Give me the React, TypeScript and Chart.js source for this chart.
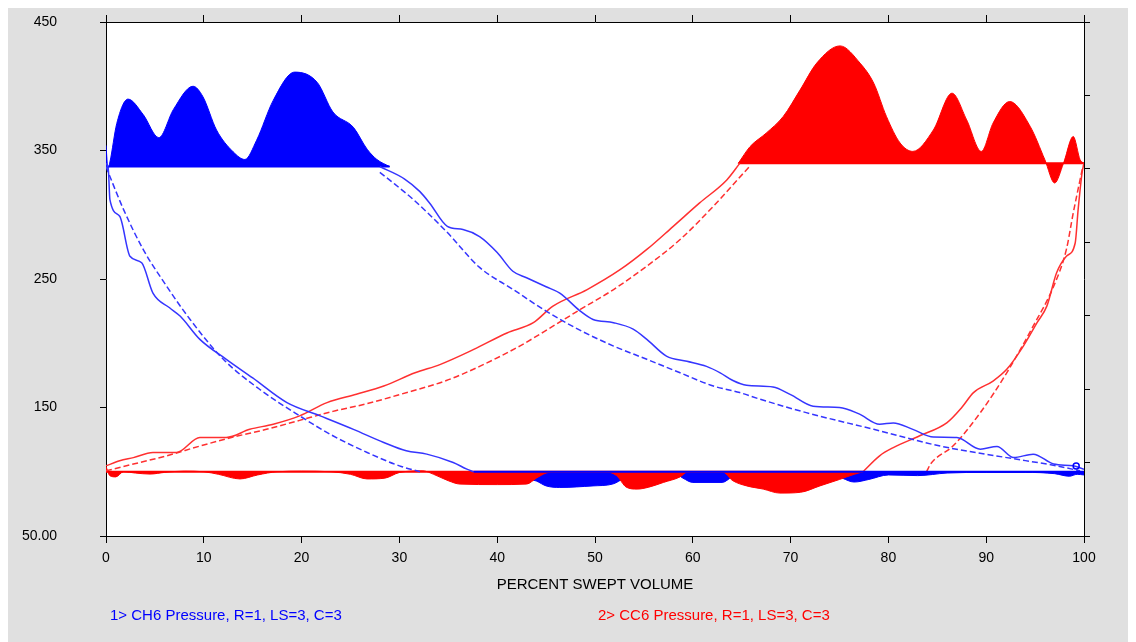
import React, { useEffect, useRef } from 'react';
import { Chart, registerables } from 'chart.js';

Chart.register(...registerables);

// ---------- data (percent swept volume vs pressure) ----------
const xTickLabels = ['0', '10', '20', '30', '40', '50', '60', '70', '80', '90', '100'];
const yTickValues = [50, 150, 250, 350, 450];
const xTitle = 'PERCENT SWEPT VOLUME';
const legend1 = '1> CH6 Pressure, R=1, LS=3, C=3';
const legend2 = '2> CC6 Pressure, R=1, LS=3, C=3';

const blueTopBase = 337.5;
const redTopBase = 340;
const lowBase = 100;

const blueTopX = [0, 0.2, 0.4, 1.1, 2.25, 3.8, 5.4, 6.9, 8.9, 9.9, 11.3, 13, 14.2, 15.4, 17.1, 19.3, 21.6, 23.2, 25.3, 26.7, 27.7, 29];
const blueTopY = [354, 336, 341, 371, 390, 378, 360, 382, 400, 392, 366, 349, 343, 358, 389, 411, 403, 380, 368, 351, 343, 337.5];

const blueUpperSolidX = [28, 30.5, 32.1, 33.1, 34.9, 36.5, 38.2, 40, 41.6, 43, 45, 46.4, 48.5, 49.8, 51.9, 53.9, 55.3, 57.3, 59.4, 61.4, 62.8, 64.1, 65.5, 68.2, 70, 72.3, 75, 77, 79.1, 80.5, 82.5, 84.6, 87, 89.4, 91.1, 92.8, 94.8, 96.9, 98.9, 100];
const blueUpperSolidY = [337.5, 328, 318, 309, 291, 288.5, 283, 270.6, 256, 251, 244, 239, 225, 218.5, 216, 211, 203, 190, 186, 182, 177, 171, 167.3, 166, 160, 151, 150, 145, 137, 138, 133, 127, 126.7, 117.6, 119.6, 111, 113.7, 106, 104.6, 102];

const blueUpperDashX = [28, 29.5, 31.4, 34.8, 38.2, 41.6, 45, 48.5, 51.9, 55.3, 58.7, 62.1, 64.8, 66.9, 71.6, 78.5, 85.3, 92.1, 97.2, 99.6];
const blueUpperDashY = [333, 324, 312, 287, 259, 242, 225, 210, 197.8, 187.5, 177, 166.7, 161.6, 156.4, 146, 133, 120, 111, 104.6, 100.7];

const blueLowerSolidX = [0, 0.24, 0.4, 1.4, 2.45, 3.65, 4.8, 6.5, 7.6, 9.6, 12.3, 15, 18.5, 21.9, 25.3, 28.4, 30.7, 32.8, 35.5, 36.9, 37.6];
const blueLowerSolidY = [340, 335, 311.7, 298.8, 267.7, 262.6, 239, 227.6, 221, 203, 187.5, 173, 153.8, 143.5, 133, 122.8, 116.3, 113.7, 107.2, 102, 100];

const blueLowerDashX = [0, 0.4, 1.8, 3.8, 6.2, 8.6, 12, 15.7, 19.8, 23.2, 26.7, 30, 32.1];
const blueLowerDashY = [337.5, 329.8, 304, 273, 244.4, 218.5, 187.5, 164.2, 143.5, 128, 115, 104.6, 100];

const blueLowX = [37.6, 40, 42, 43, 44, 45, 46.4, 49.8, 51.8, 53, 54.5, 58, 59, 60, 63, 64, 65, 74, 75.3, 76.5, 78, 80, 83, 86, 90, 94, 97, 98.5, 99.3, 100];
const blueLowY = [100, 100, 99, 95, 92.8, 89, 87.8, 89, 90.4, 95, 99, 99.5, 95, 91.7, 91.7, 96, 99.5, 99.5, 95, 92, 94, 97.5, 97, 99, 99.5, 99.5, 98.5, 96.5, 98, 97.5];

const blueEndX = [99.2];
const blueEndY = [104.5];

const redTopX = [64.65, 65.85, 67.5, 69.25, 70.96, 72.67, 75.05, 77.1, 78.5, 79.8, 81.2, 82.5, 84.6, 86.5, 88, 89.5, 90.7, 92.4, 94.5, 96, 97, 97.9, 98.9, 99.6, 100];
const redTopY = [340, 353, 363.5, 376.5, 397, 418, 431.4, 418, 402.4, 376.5, 355.8, 349.3, 366, 394.6, 373.9, 349.3, 371.3, 388.1, 368.7, 342.8, 324.7, 340, 360.9, 342.8, 340];

const redSolidLeftX = [0, 1.4, 2.8, 4.8, 7.2, 9.6, 12.3, 14.7, 17.1, 19.8, 22.6, 25.6, 28.4, 31.6, 34.2, 37.6, 41, 43.7, 45.7, 49.2, 52.6, 55.3, 58, 60.7, 63.5, 64.8];
const redSolidLeftY = [104.6, 108.5, 111, 115, 115, 126.7, 126.7, 133, 137, 143.5, 153.8, 160.3, 166.7, 177, 183.6, 195.2, 208, 216, 228.9, 241.8, 257.4, 273, 291, 309.2, 327.3, 340];

const redDashLeftX = [0, 2.8, 6.2, 9.6, 13, 16.4, 19.8, 23.2, 26.7, 30, 34.8, 38.2, 42.3, 45.7, 48.5, 51.9, 55.3, 58.7, 62.1, 65.8];
const redDashLeftY = [100.7, 106, 112.4, 120, 127, 133, 140, 147, 153, 160, 171, 182, 197.8, 213.3, 226.3, 241.8, 260, 280.7, 306.6, 337.6];

const redSolidRightX = [77.4, 79.1, 80.5, 83.2, 86, 87.5, 88.7, 90.7, 92.1, 93.8, 95.2, 96.2, 97.2, 98.2, 99.1, 99.4, 99.8, 100];
const redSolidRightY = [100, 112.4, 118.8, 128, 138.3, 150, 161.6, 170.6, 179.7, 197.8, 216, 228.9, 254.8, 267.7, 278, 304, 332.5, 340];

const redDashRightX = [83.9, 84.3, 86.6, 89.4, 92.1, 94.8, 96.9, 98.2, 98.9, 99.6, 99.9];
const redDashRightY = [100, 105.9, 120, 146, 177, 213.3, 244.4, 273, 301.4, 327.3, 338];

const redLowX = [0, 0.4, 1, 1.8, 3, 4.5, 6, 8, 10, 11.5, 13.7, 15.5, 17.5, 20, 23, 25, 26.7, 28.5, 30, 32.4, 33.5, 35, 36.2, 40, 43, 44, 45, 46, 51, 52.2, 53.2, 54.3, 55.5, 57, 58.7, 59.5, 63, 64.1, 65.5, 67.2, 68.9, 71, 73, 75, 76.5, 77.4];
const redLowY = [104, 96.9, 96, 100, 99, 98.2, 99.5, 100.5, 100, 98, 94.4, 97.5, 100, 100.5, 100, 98, 94.4, 95, 99.4, 100.7, 98, 93, 90.4, 90, 90.4, 95, 99, 100, 100, 97, 88, 86.5, 88, 91.7, 96, 100, 100, 93, 89, 86.5, 83.4, 84, 89, 94, 98, 100];

// ---------- helpers ----------
const pts = (xs: number[], ys: number[]) => xs.map((x, i) => ({ x, y: ys[i] }));
const flat = (xs: number[], v: number) => [xs[0], xs[xs.length - 1]].map((x) => ({ x, y: v }));

const BLUE = '#0000ff';
const RED = '#ff0000';
const BLUE_LINE = '#3535ff';
const RED_LINE = '#ff3030';
const DASH = [6, 3];
const FONT = "'Liberation Sans', Arial, sans-serif";

const bgPlugin = {
  id: 'bg',
  beforeDraw(chart: any) {
    const { ctx, chartArea: ca, width, height } = chart;
    ctx.save();
    ctx.fillStyle = '#e0e0e0';
    ctx.fillRect(0, 0, width, height);
    ctx.fillStyle = '#ffffff';
    ctx.fillRect(ca.left, ca.top, ca.right - ca.left, ca.bottom - ca.top);
    ctx.restore();
  },
};

const textPlugin = {
  id: 'texts',
  afterDraw(chart: any) {
    const { ctx, chartArea: ca } = chart;
    ctx.save();
    ctx.font = `15px ${FONT}`;
    ctx.textBaseline = 'middle';
    ctx.textAlign = 'center';
    ctx.fillStyle = '#000';
    ctx.fillText(xTitle, (ca.left + ca.right) / 2, ca.bottom + 49);
    ctx.textAlign = 'left';
    ctx.fillStyle = BLUE;
    ctx.fillText(legend1, ca.left + 4, ca.bottom + 80);
    ctx.fillStyle = RED;
    ctx.fillText(legend2, ca.left + 492, ca.bottom + 80);
    ctx.restore();
  },
};

const line = (data: any[], color: string, dash: number[] = [], width = 1.5) => ({
  data,
  borderColor: color,
  borderWidth: width,
  borderDash: dash,
  pointRadius: 0,
  fill: false,
});

const area = (data: any[], color: string, base: number) => ({
  data,
  borderColor: color,
  backgroundColor: color,
  borderWidth: 1,
  pointRadius: 0,
  fill: { value: base },
});

const fixBox = (w: number | null, h: number | null) => (s: any) => {
  if (w !== null) s.width = w;
  if (h !== null) s.height = h;
  s.paddingTop = 0;
  s.paddingBottom = 0;
  s.paddingLeft = 0;
  s.paddingRight = 0;
};

export default function App() {
  const ref = useRef<HTMLCanvasElement | null>(null);

  useEffect(() => {
    document.body.style.overflow = 'hidden';
    const tickGrid = (len: number) => ({
      drawOnChartArea: false,
      drawTicks: true,
      tickLength: len,
      color: '#000',
      tickColor: '#000',
    });
    const chart = new Chart(ref.current as HTMLCanvasElement, {
      type: 'line',
      data: {
        datasets: [
          {
            data: pts(blueEndX, blueEndY),
            borderColor: BLUE,
            backgroundColor: 'rgba(0,0,0,0)',
            pointRadius: 3,
            pointBorderWidth: 1.5,
            showLine: false,
          },
          line(flat(blueLowX, lowBase), BLUE, [], 2),
          line(pts(blueUpperSolidX, blueUpperSolidY), BLUE_LINE),
          line(pts(blueUpperDashX, blueUpperDashY), BLUE_LINE, DASH),
          line(pts(blueLowerSolidX, blueLowerSolidY), BLUE_LINE),
          line(pts(blueLowerDashX, blueLowerDashY), BLUE_LINE, DASH),
          line(pts(redSolidLeftX, redSolidLeftY), RED_LINE),
          line(pts(redDashLeftX, redDashLeftY), RED_LINE, DASH),
          line(pts(redSolidRightX, redSolidRightY), RED_LINE),
          line(pts(redDashRightX, redDashRightY), RED_LINE, DASH),
          line(flat(redTopX, redTopBase), RED, [], 2),
          line(flat(redLowX, lowBase), RED, [], 2),
          line(flat(blueTopX, blueTopBase), BLUE, [], 2),
          area(pts(redTopX, redTopY), RED, redTopBase),
          area(pts(blueTopX, blueTopY), BLUE, blueTopBase),
          area(pts(redLowX, redLowY), RED, lowBase),
          area(pts(blueLowX, blueLowY), BLUE, lowBase),
        ] as any,
      },
      options: {
        responsive: false,
        animation: false,
        events: [],
        layout: { padding: 0 },
        elements: {
          point: { radius: 0 },
          line: { cubicInterpolationMode: 'monotone' },
        },
        plugins: {
          legend: { display: false },
          tooltip: { enabled: false },
          title: { display: false },
        },
        scales: {
          x: {
            type: 'linear',
            position: 'bottom',
            min: 0,
            max: 100,
            ticks: {
              stepSize: 10,
              autoSkip: false,
              maxRotation: 0,
              color: '#000',
              padding: 7,
              font: { family: FONT, size: 14 },
              callback: (v: any, i: number) => xTickLabels[i] ?? String(v),
            },
            grid: tickGrid(7),
            border: { display: true, color: '#000', width: 1 },
            afterFit: fixBox(null, 106),
          },
          x2: {
            type: 'linear',
            position: 'top',
            min: 0,
            max: 100,
            ticks: { stepSize: 10, display: false },
            grid: tickGrid(7),
            border: { display: true, color: '#000', width: 1 },
            afterFit: fixBox(null, 14),
          },
          y: {
            type: 'linear',
            position: 'left',
            min: 50,
            max: 450,
            afterBuildTicks: (s: any) => { s.ticks = yTickValues.map((value) => ({ value })); },
            ticks: {
              color: '#000',
              padding: 43,
              font: { family: FONT, size: 14 },
              callback: (v: any) => (v === 50 ? '50.00' : String(v)),
            },
            grid: tickGrid(6),
            border: { display: true, color: '#000', width: 1 },
            afterFit: fixBox(98, null),
          },
          y2: {
            type: 'linear',
            position: 'right',
            min: 0,
            max: 7,
            ticks: { stepSize: 1, display: false },
            grid: tickGrid(6),
            border: { display: true, color: '#000', width: 1 },
            afterFit: fixBox(52, null),
          },
        },
      },
      plugins: [bgPlugin, textPlugin],
    } as any);
    return () => chart.destroy();
  }, []);

  return (
    <canvas
      ref={ref}
      width={1128}
      height={634}
      style={{ display: 'block', width: 1128, height: 634 }}
    />
  );
}
